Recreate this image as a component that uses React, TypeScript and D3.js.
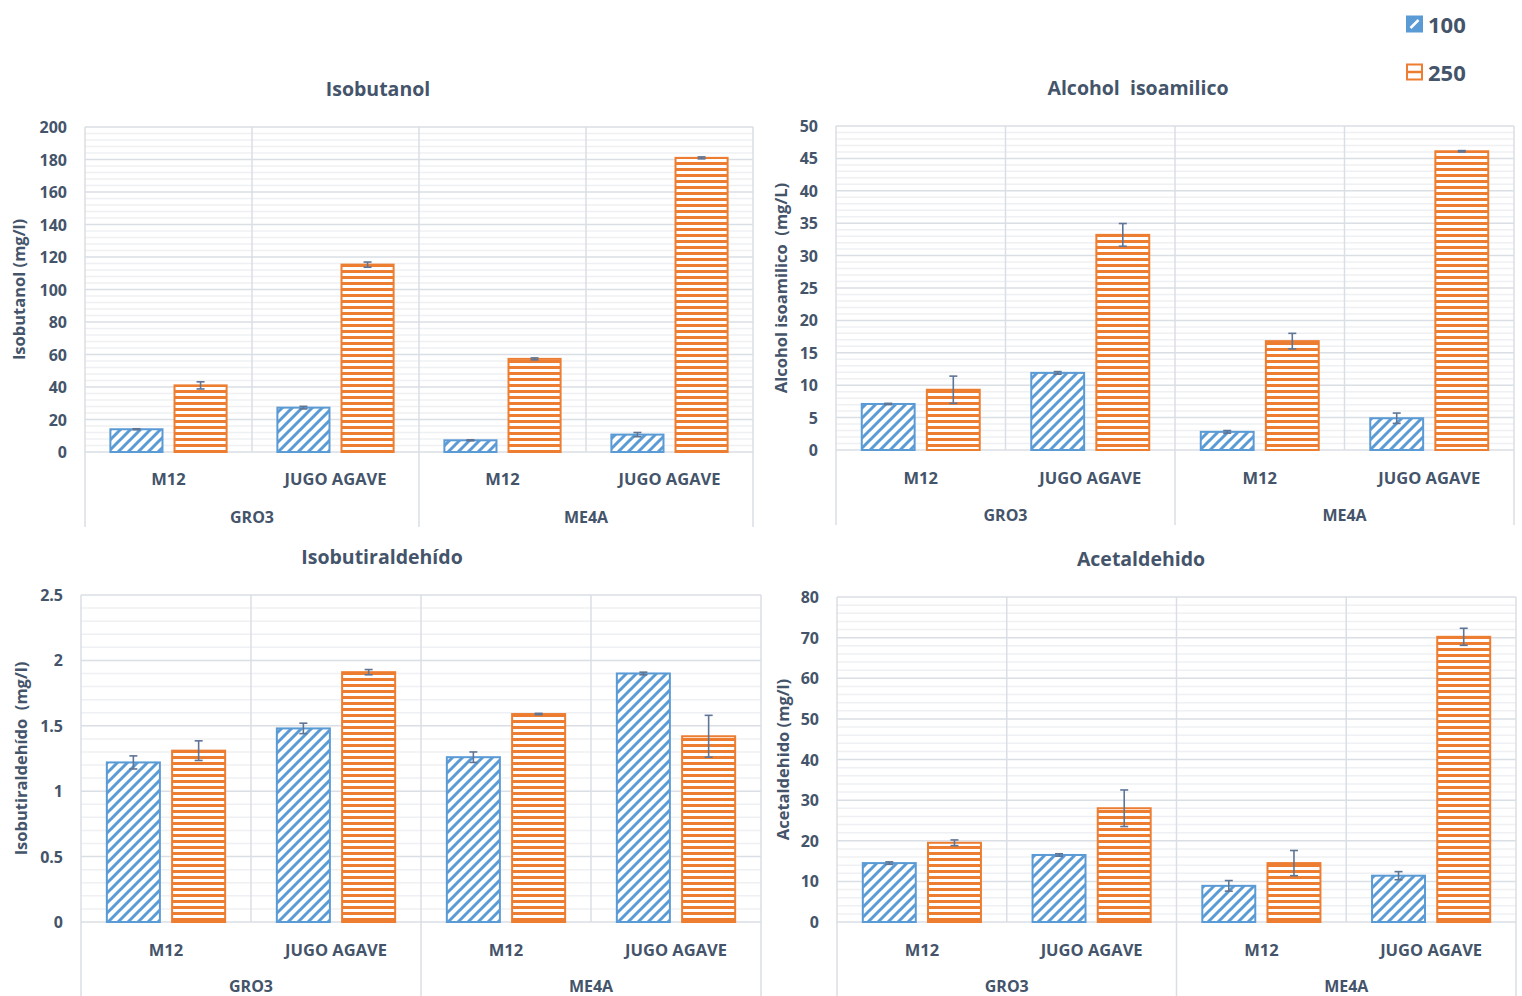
import { useRef, useEffect } from 'react'
import * as d3 from 'd3'

// categories (two level axis)
const groups = ['GRO3', 'ME4A']
const categories = ['M12', 'JUGO AGAVE']
const seriesNames = ['100', '250']

// values, order: GRO3-M12, GRO3-JUGO, ME4A-M12, ME4A-JUGO
const isobutanol100 = [14, 27.3, 7.2, 10.7]
const isobutanol100Err = [0.3, 0.8, 0.3, 1.3]
const isobutanol250 = [41, 115.3, 57.3, 181]
const isobutanol250Err = [2.2, 1.6, 0.6, 0.6]

const isoamilico100 = [7.1, 11.9, 2.8, 4.9]
const isoamilico100Err = [0.1, 0.2, 0.2, 0.8]
const isoamilico250 = [9.3, 33.2, 16.8, 46.1]
const isoamilico250Err = [2.1, 1.75, 1.2, 0.1]

const isobutiraldehido100 = [1.22, 1.48, 1.26, 1.9]
const isobutiraldehido100Err = [0.05, 0.04, 0.04, 0.01]
const isobutiraldehido250 = [1.31, 1.91, 1.59, 1.42]
const isobutiraldehido250Err = [0.075, 0.02, 0.005, 0.16]

const acetaldehido100 = [14.5, 16.5, 8.9, 11.4]
const acetaldehido100Err = [0.3, 0.3, 1.3, 1]
const acetaldehido250 = [19.5, 28, 14.5, 70.2]
const acetaldehido250Err = [0.7, 4.5, 3.1, 2.1]

const panels = [
  { title: 'Isobutanol', yLabel: 'Isobutanol (mg/l)', max: 200, step: 20, minor: 4,
    values: [isobutanol100, isobutanol250], errors: [isobutanol100Err, isobutanol250Err] },
  { title: 'Alcohol  isoamilico', yLabel: 'Alcohol isoamilico  (mg/L)', max: 50, step: 5, minor: 1,
    values: [isoamilico100, isoamilico250], errors: [isoamilico100Err, isoamilico250Err] },
  { title: 'Isobutiraldehído', yLabel: 'Isobutiraldehído  (mg/l)', max: 2.5, step: 0.5, minor: 0.1,
    values: [isobutiraldehido100, isobutiraldehido250], errors: [isobutiraldehido100Err, isobutiraldehido250Err] },
  { title: 'Acetaldehido', yLabel: 'Acetaldehido (mg/l)', max: 80, step: 10, minor: 2,
    values: [acetaldehido100, acetaldehido250], errors: [acetaldehido100Err, acetaldehido250Err] },
]

// where each panel sits on the page
const layout = [
  { x0: 85, x1: 753, top: 127, bot: 452, catY: 478, grpY: 517, frameBot: 527, titleX: 378, titleY: 88, labelX: 18 },
  { x0: 836, x1: 1514, top: 126, bot: 450, catY: 477, grpY: 515, frameBot: 525, titleX: 1138, titleY: 87, labelX: 780 },
  { x0: 81, x1: 761, top: 595, bot: 922, catY: 949, grpY: 986, frameBot: 1000, titleX: 382, titleY: 556, labelX: 20 },
  { x0: 837, x1: 1516, top: 597, bot: 922, catY: 949, grpY: 986, frameBot: 1000, titleX: 1141, titleY: 558, labelX: 782 },
]

const BLUE = '#5b9bd5'
const ORANGE = '#ed7d31'
const TEXT = '#44546a'
const MAJOR = '#dadee5'
const MINOR = '#eef0f3'
const ERR = '#5f7595'
const FONT = "'Open Sans', sans-serif"

function App() {
  const ref = useRef<SVGSVGElement>(null)
  useEffect(() => {
    const svg = d3.select(ref.current)
    svg.selectAll('*').remove()

    const defs = svg.append('defs')
    const diag = defs.append('pattern').attr('id', 'diag')
      .attr('patternUnits', 'userSpaceOnUse').attr('width', 10).attr('height', 10)
    diag.append('rect').attr('width', 10).attr('height', 10).attr('fill', 'white')
    diag.append('path').attr('d', 'M-2,2 L2,-2 M0,10 L10,0 M8,12 L12,8')
      .attr('stroke', BLUE).attr('stroke-width', 3)
    const horiz = defs.append('pattern').attr('id', 'horiz')
      .attr('patternUnits', 'userSpaceOnUse').attr('width', 6).attr('height', 6)
    horiz.append('rect').attr('width', 6).attr('height', 6).attr('fill', 'white')
    horiz.append('rect').attr('width', 6).attr('height', 3).attr('fill', ORANGE)
    const fills = ['url(#diag)', 'url(#horiz)']
    const colors = [BLUE, ORANGE]

    const keys: string[] = []
    groups.forEach(g => categories.forEach(c => keys.push(g + '|' + c)))

    panels.forEach((p, pi) => {
      const L = layout[pi]
      const g = svg.append('g')
      const y = d3.scaleLinear().domain([0, p.max]).range([L.bot, L.top])
      const x = d3.scaleBand().domain(keys).range([L.x0, L.x1])
      const bw = x.bandwidth()
      const xs = d3.scaleBand().domain(seriesNames).range([bw * 0.152, bw * 0.848]).paddingInner(0.1875)

      // minor grid
      const minorTicks = d3.range(0, p.max + 1e-9, p.minor).filter(v => Math.abs(v / p.step - Math.round(v / p.step)) > 1e-6)
      g.selectAll('.minor').data(minorTicks).enter().append('line')
        .attr('x1', L.x0).attr('x2', L.x1)
        .attr('y1', d => y(d)).attr('y2', d => y(d))
        .attr('stroke', MINOR).attr('stroke-width', 1.5)
      const majorTicks = d3.range(0, p.max + 1e-9, p.step)
      g.selectAll('.major').data(majorTicks).enter().append('line')
        .attr('x1', L.x0).attr('x2', L.x1)
        .attr('y1', d => y(d)).attr('y2', d => y(d))
        .attr('stroke', MAJOR).attr('stroke-width', 1.5)

      // vertical lines: inner ones only in the plot, group ones go down through labels
      keys.forEach((k, i) => {
        const xx = x(k)!
        const full = i % categories.length === 0
        g.append('line').attr('x1', xx).attr('x2', xx)
          .attr('y1', L.top).attr('y2', full ? L.frameBot : L.bot)
          .attr('stroke', MAJOR).attr('stroke-width', 1.5)
      })
      g.append('line').attr('x1', L.x1).attr('x2', L.x1)
        .attr('y1', L.top).attr('y2', L.frameBot)
        .attr('stroke', MAJOR).attr('stroke-width', 1.5)

      // tick labels
      g.selectAll('.tick').data(majorTicks).enter().append('text')
        .attr('x', L.x0 - 18).attr('y', d => y(d))
        .attr('text-anchor', 'end').attr('dominant-baseline', 'central')
        .style('font', `700 16px ${FONT}`).attr('fill', TEXT)
        .text(d => String(+d.toFixed(2)))

      // bars
      seriesNames.forEach((s, si) => {
        g.selectAll('.bar' + si).data(p.values[si]).enter().append('rect')
          .attr('x', (d, i) => x(keys[i])! + xs(s)!)
          .attr('y', d => y(d))
          .attr('width', xs.bandwidth())
          .attr('height', d => L.bot - y(d))
          .attr('fill', fills[si]).attr('stroke', colors[si]).attr('stroke-width', 2)
        // error bars
        p.values[si].forEach((v, i) => {
          const e = p.errors[si][i]
          const cx = x(keys[i])! + xs(s)! + xs.bandwidth() / 2
          const eg = g.append('g').attr('stroke', ERR).attr('stroke-width', 1.6)
          eg.append('line').attr('x1', cx).attr('x2', cx).attr('y1', y(v - e)).attr('y2', y(v + e))
          eg.append('line').attr('x1', cx - 4).attr('x2', cx + 4).attr('y1', y(v - e)).attr('y2', y(v - e))
          eg.append('line').attr('x1', cx - 4).attr('x2', cx + 4).attr('y1', y(v + e)).attr('y2', y(v + e))
        })
      })

      // category and group labels
      g.selectAll('.cat').data(keys).enter().append('text')
        .attr('x', d => x(d)! + bw / 2).attr('y', L.catY)
        .attr('text-anchor', 'middle').attr('dominant-baseline', 'central')
        .style('font', `700 16.5px ${FONT}`).attr('fill', TEXT)
        .text(d => d.split('|')[1])
      g.selectAll('.grp').data(groups).enter().append('text')
        .attr('x', (d, i) => x(keys[i * categories.length])! + bw)
        .attr('y', L.grpY)
        .attr('text-anchor', 'middle').attr('dominant-baseline', 'central')
        .style('font', `700 16px ${FONT}`).attr('fill', TEXT)
        .text(d => d)

      g.append('text').attr('x', L.titleX).attr('y', L.titleY)
        .attr('text-anchor', 'middle').attr('dominant-baseline', 'central')
        .style('font', `700 19.5px ${FONT}`).attr('fill', TEXT)
        .style('white-space', 'pre')
        .text(p.title)
      g.append('text')
        .attr('transform', `translate(${L.labelX},${(L.top + L.bot) / 2})rotate(-90)`)
        .attr('text-anchor', 'middle').attr('dominant-baseline', 'central')
        .style('font', `700 16.5px ${FONT}`).attr('fill', TEXT)
        .style('white-space', 'pre')
        .text(p.yLabel)
    })

    // legend
    const lg = svg.append('g').attr('transform', 'translate(1406,0)')
    seriesNames.forEach((s, si) => {
      const ly = 24 + si * 48
      lg.append('rect').attr('x', 1).attr('y', ly - 7.5).attr('width', 15).attr('height', 15)
        .attr('fill', si === 0 ? BLUE : 'white').attr('stroke', colors[si]).attr('stroke-width', 2)
      if (si === 0) {
        lg.append('path').attr('d', `M4.5,${ly + 4} L12.5,${ly - 4}`).attr('stroke', 'white').attr('stroke-width', 2.5)
      } else {
        lg.append('line').attr('x1', 1).attr('x2', 16).attr('y1', ly).attr('y2', ly)
          .attr('stroke', ORANGE).attr('stroke-width', 2.5)
      }
      lg.append('text').attr('x', 22).attr('y', ly)
        .attr('dominant-baseline', 'central')
        .style('font', `700 22px ${FONT}`).attr('fill', TEXT)
        .text(s)
    })
  }, [])

  return (
    <svg ref={ref} width={1522} height={996}
      style={{ position: 'absolute', left: 0, top: 0, background: 'white' }} />
  )
}

export default App
